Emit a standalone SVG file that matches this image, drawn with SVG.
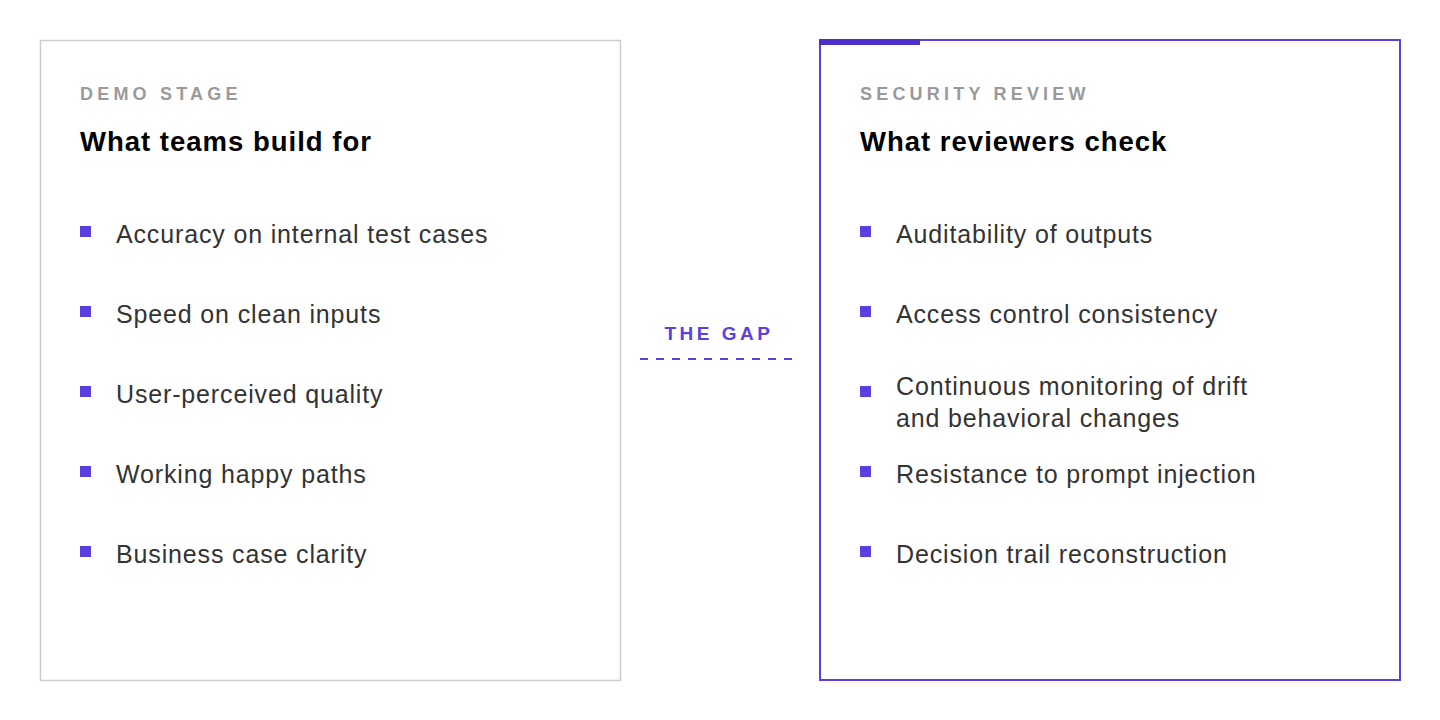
<svg xmlns="http://www.w3.org/2000/svg" width="1440" height="720" viewBox="0 0 1440 720">
<style>
text{font-family:"Liberation Sans",Arial,sans-serif}
.lbl{font-size:18px;font-weight:bold;fill:#9a9a9a;letter-spacing:4.2px}
.ttl{font-size:27.5px;font-weight:bold;fill:#000;letter-spacing:1px}
.itm{font-size:25px;fill:#333;letter-spacing:0.85px}
.b{fill:#5b3fe0}
</style>
<rect width="1440" height="720" fill="#fff"/>
<g id="demo">
<rect x="40.5" y="40.5" width="580" height="640" fill="#fff" stroke="#cccccc" stroke-width="1.5"/>
<text class="lbl" x="80" y="100">DEMO STAGE</text>
<text class="ttl" x="80" y="151">What teams build for</text>
<rect class="b" x="80" y="226" width="11" height="11"/><text class="itm" x="116" y="243">Accuracy on internal test cases</text>
<rect class="b" x="80" y="306" width="11" height="11"/><text class="itm" x="116" y="323">Speed on clean inputs</text>
<rect class="b" x="80" y="386" width="11" height="11"/><text class="itm" x="116" y="403">User-perceived quality</text>
<rect class="b" x="80" y="466" width="11" height="11"/><text class="itm" x="116" y="483">Working happy paths</text>
<rect class="b" x="80" y="546" width="11" height="11"/><text class="itm" x="116" y="563">Business case clarity</text>
</g>
<g id="gap">
<text x="719" y="340" text-anchor="middle" style="font-size:19px;font-weight:bold;fill:#5b3fe0;letter-spacing:3.5px">THE GAP</text>
<line x1="640" y1="359" x2="792" y2="359" stroke="#5b3fe0" stroke-width="2" stroke-dasharray="8 8"/>
</g>
<g id="review">
<rect x="820" y="40" width="580" height="640" fill="#fff" stroke="#5b3fe0" stroke-width="2"/>
<rect x="819" y="39" width="101" height="6" fill="#4a2fc8"/>
<text class="lbl" x="860" y="100">SECURITY REVIEW</text>
<text class="ttl" x="860" y="151">What reviewers check</text>
<rect class="b" x="860" y="226" width="11" height="11"/><text class="itm" x="896" y="243">Auditability of outputs</text>
<rect class="b" x="860" y="306" width="11" height="11"/><text class="itm" x="896" y="323">Access control consistency</text>
<rect class="b" x="860" y="386" width="11" height="11"/><text class="itm" x="896" y="395">Continuous monitoring of drift</text><text class="itm" x="896" y="427">and behavioral changes</text>
<rect class="b" x="860" y="466" width="11" height="11"/><text class="itm" x="896" y="483">Resistance to prompt injection</text>
<rect class="b" x="860" y="546" width="11" height="11"/><text class="itm" x="896" y="563">Decision trail reconstruction</text>
</g>
</svg>
